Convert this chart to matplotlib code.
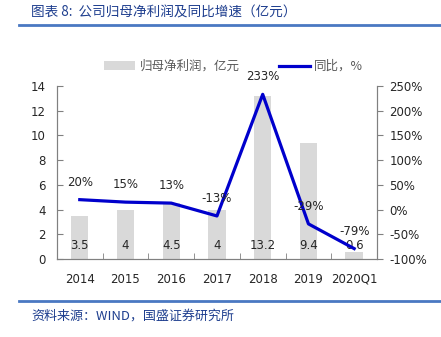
import matplotlib.pyplot as plt
import numpy as np

plt.rcParams['font.family'] = ['DejaVu Sans', 'Noto Sans CJK SC']

years = ['2014', '2015', '2016', '2017', '2018', '2019', '2020Q1']
profit = [3.5, 4, 4.5, 4, 13.2, 9.4, 0.6]
profit_labels = ['3.5', '4', '4.5', '4', '13.2', '9.4', '0.6']
yoy = [20, 15, 13, -13, 233, -29, -79]

bar_color = '#d9d9d9'
line_color = '#0000cc'
axis_color = '#808080'
text_color = '#262626'
cjk = ['Noto Sans CJK SC', 'DejaVu Sans']

fig = plt.figure(figsize=(4.41, 3.37), dpi=100)
ax = fig.add_axes([0.129, 0.2315, 0.726, 0.5135])
ax2 = ax.twinx()

x = np.arange(len(years))
bars = ax.bar(x, profit, width=0.38, color=bar_color, zorder=1)
for xi, lab in zip(x, profit_labels):
    ax.text(xi, 1.1, lab, ha='center', va='center', fontsize=8.5, color=text_color)

line, = ax2.plot(x, yoy, color=line_color, linewidth=2.3, zorder=3)
for xi, v in zip(x, yoy):
    ax2.annotate(f'{v}%', (xi, v), xytext=(0, 12.5), textcoords='offset points',
                 ha='center', va='center', fontsize=8.5, color=text_color,
                 annotation_clip=False)

ax.set_xlim(-0.5, len(years) - 0.5)
ax.set_ylim(0, 14)
ax.set_yticks(np.arange(0, 15, 2))
ax2.set_ylim(-100, 250)
ax2.set_yticks(np.arange(-100, 251, 50))
ax2.set_yticklabels([f'{t}%' for t in range(-100, 251, 50)])

ax.set_xticks(x)
ax.set_xticklabels(years)
ax.set_xticks(np.arange(0.5, len(years) - 0.5, 1), minor=True)
ax.tick_params(axis='x', which='major', length=0, pad=10, labelsize=8.5,
               labelcolor=text_color)
ax.tick_params(axis='x', which='minor', length=4, direction='in',
               color=axis_color)
ax.tick_params(axis='y', length=4, direction='in', color=axis_color,
               labelsize=8.5, labelcolor=text_color, pad=8)
ax2.tick_params(axis='y', length=4, direction='out', color=axis_color,
                labelsize=8.5, labelcolor=text_color, pad=5)

for a in (ax, ax2):
    a.spines['top'].set_visible(False)
    for s in ('left', 'right', 'bottom'):
        a.spines[s].set_color(axis_color)
        a.spines[s].set_linewidth(0.8)

ax.set_zorder(ax2.get_zorder() - 1)
ax.patch.set_visible(False)

fig.legend([bars, line], ['归母净利润，亿元', '同比，%'],
           loc='center', bbox_to_anchor=(0.53, 0.803), ncol=2, frameon=False,
           prop={'family': cjk, 'size': 9}, handlelength=2.5,
           columnspacing=3.1, handletextpad=0.35, labelcolor='#595959')

# header and footer rules
fig.add_artist(plt.Line2D([0.043, 1.0], [0.926, 0.926], color='#4a78c2',
                          linewidth=2, transform=fig.transFigure))
fig.add_artist(plt.Line2D([0.043, 1.0], [0.107, 0.107], color='#4a78c2',
                          linewidth=2, transform=fig.transFigure))
fig.text(0.07, 0.963, '图表 8:  公司归母净利润及同比增速（亿元）', family=cjk,
         fontsize=9.8, style='italic', color='#1f3f8f', va='center')
fig.text(0.07, 0.062, '资料来源：WIND，国盛证券研究所', family=cjk,
         fontsize=9.4, style='italic', color='#1f3f8f', va='center')

fig.savefig('out.png', dpi=100)
